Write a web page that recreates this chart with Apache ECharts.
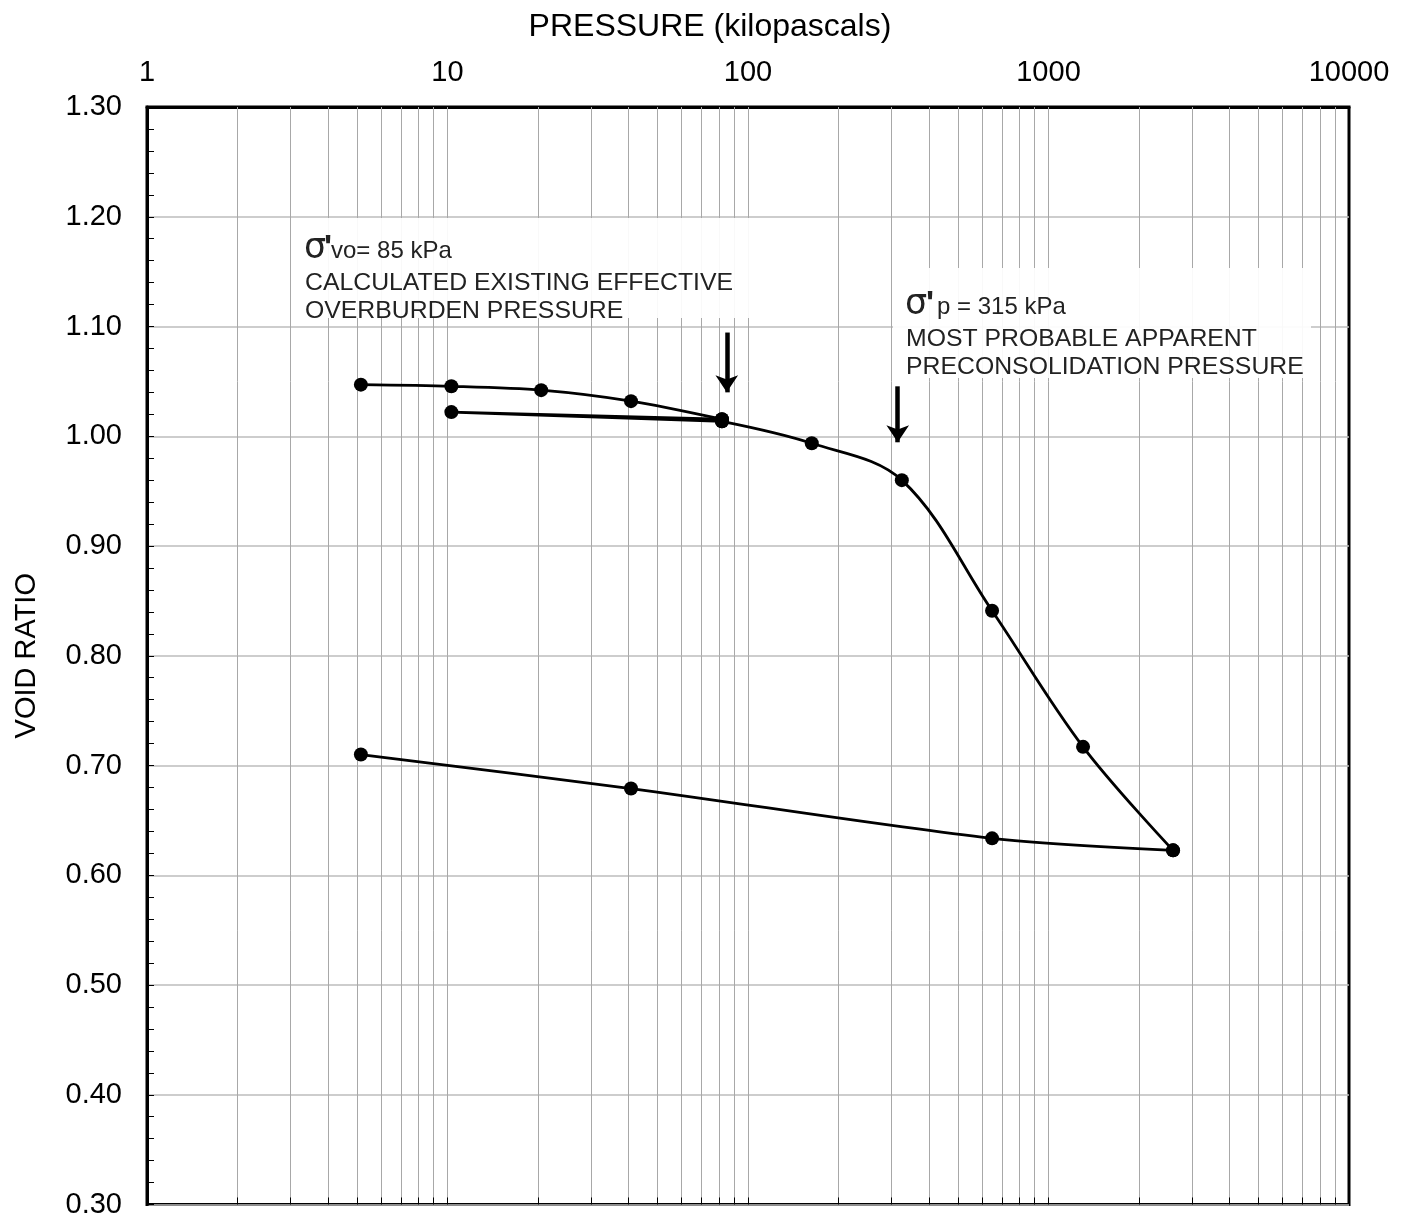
<!DOCTYPE html>
<html>
<head>
<meta charset="utf-8">
<script src="https://cdn.jsdelivr.net/npm/echarts@6/dist/echarts.min.js"></script>
<style>
html,body{margin:0;padding:0;background:#fff;}
#c{width:1403px;height:1219px;}
</style>
</head>
<body>
<div id="c"></div>
<script>
// ---- data ----
const pressureLoad1 = [5.15, 10.3, 20.5, 40.8, 81.9];
const voidLoad1     = [1.047, 1.0455, 1.042, 1.032, 1.0155];
const pressureCycle = [81.9, 10.3, 81.9];
const voidCycle     = [1.0155, 1.022, 1.0136];
const pressureLoad2 = [81.9, 163, 325, 649, 1303, 2597];
const voidLoad2     = [1.0136, 0.9936, 0.960, 0.841, 0.717, 0.6227];
const pressureRebound = [2597, 649, 40.8, 5.15];
const voidRebound     = [0.6227, 0.6336, 0.679, 0.710];

const xTickValues = [1, 10, 100, 1000, 10000];
const xTickLabels = ['1', '10', '100', '1000', '10000'];
const logGridValues = [2,3,4,5,6,7,8,9,10,20,30,40,50,60,70,80,90,100,200,300,400,500,600,700,800,900,1000,2000,3000,4000,5000,6000,7000,8000,9000];

// annotation arrows: [pressure, void ratio at tail, void ratio at head]
const arrowVo = [85, 1.0945, 1.040];
const arrowP  = [315, 1.0455, 0.9945];

const FONT = 'Liberation Sans, Arial, sans-serif';
const pair = (xs, ys) => xs.map((x, i) => [x, ys[i]]);

const curveStyle = {color: '#000', width: 2.8};
const mk = {symbol: 'circle', symbolSize: 14, itemStyle: {color: '#000'}};

const chart = echarts.init(document.getElementById('c'), null, {renderer: 'canvas'});

const option = {
  animation: false,
  backgroundColor: '#fff',
  textStyle: {fontFamily: FONT},
  grid: {left: 147, right: 54, top: 107, bottom: 12, show: true, borderColor: '#000', borderWidth: 3, backgroundColor: 'transparent'},
  xAxis: [{
    type: 'log', logBase: 10, min: 1, max: 10000, position: 'top',
    name: 'PRESSURE (kilopascals)', nameLocation: 'middle', nameGap: 64,
    nameTextStyle: {fontSize: 32, color: '#000', fontFamily: FONT, padding: [0, 76, 0, 0]},
    axisLine: {show: true, lineStyle: {color: '#000', width: 3}},
    axisTick: {show: false},
    axisLabel: {fontSize: 29, color: '#000', margin: 20, fontFamily: FONT,
      formatter: v => { const i = xTickValues.findIndex(t => Math.abs(t - v) / t < 1e-6); return i >= 0 ? xTickLabels[i] : ''; }},
    splitLine: {show: false}
  }],
  yAxis: [{
    type: 'value', min: 0.3, max: 1.3, interval: 0.1,
    name: 'VOID RATIO', nameLocation: 'middle', nameGap: 106,
    nameTextStyle: {fontSize: 29, color: '#000', fontFamily: FONT},
    axisLine: {show: true, lineStyle: {color: '#000', width: 3}},
    axisTick: {show: true, inside: true, length: 7, lineStyle: {color: '#000', width: 1}},
    minorTick: {show: true, splitNumber: 5, length: 7, lineStyle: {color: '#000', width: 1}},
    axisLabel: {fontSize: 29, color: '#000', margin: 25, fontFamily: FONT, formatter: v => v.toFixed(2)},
    splitLine: {show: true, lineStyle: {color: '#bdbdbd', width: 1.5}}
  }],
  series: [
    { // vertical log grid
      type: 'line', z: 1, data: [[1, 0.3]], symbol: 'none', lineStyle: {opacity: 0}, silent: true,
      markLine: {
        silent: true, symbol: 'none', label: {show: false}, animation: false,
        lineStyle: {color: '#a8a8a8', width: 1, type: 'solid'},
        data: logGridValues.map(v => ({xAxis: v}))
      }
    },
    { // bottom minor ticks
      type: 'line', z: 1, data: [[1, 0.3]], symbol: 'none', lineStyle: {opacity: 0}, silent: true,
      markLine: {
        silent: true, symbol: 'none', label: {show: false}, animation: false,
        lineStyle: {color: '#000', width: 1, type: 'solid'},
        data: logGridValues.map(v => [{coord: [v, 0.3]}, {coord: [v, 0.3064]}])
      }
    },
    Object.assign({type: 'line', z: 5, smooth: 0.3, data: pair(pressureLoad1, voidLoad1), lineStyle: curveStyle}, mk),
    Object.assign({type: 'line', z: 5, smooth: false, data: pair(pressureCycle, voidCycle), lineStyle: curveStyle}, mk),
    Object.assign({type: 'line', z: 5, smooth: 0.35, data: pair(pressureLoad2, voidLoad2), lineStyle: curveStyle}, mk),
    Object.assign({type: 'line', z: 5, smooth: 0.3, data: pair(pressureRebound, voidRebound), lineStyle: curveStyle}, mk),
    { // arrows
      type: 'line', z: 6, data: [[1, 0.3]], symbol: 'none', lineStyle: {opacity: 0}, silent: true,
      markLine: {
        silent: true, symbol: ['none', 'arrow'], symbolSize: 17, label: {show: false}, animation: false,
        lineStyle: {color: '#000', width: 4.5, type: 'solid'},
        data: [
          [{coord: [arrowVo[0], arrowVo[1]]}, {coord: [arrowVo[0], arrowVo[2]]}],
          [{coord: [arrowP[0], arrowP[1]]}, {coord: [arrowP[0], arrowP[2]]}]
        ]
      }
    }
  ],
  graphic: [
    {type: 'rect', z: 100, shape: {x: 296, y: 218, width: 453, height: 100}, style: {fill: '#fff', opacity: 0.93}, silent: true},
    {type: 'rect', z: 100, shape: {x: 893, y: 268, width: 418, height: 110}, style: {fill: '#fff', opacity: 0.93}, silent: true},
    {type: 'text', z: 101, x: 304, y: 248.5, style: {text: 'σ', font: '35px DejaVu Sans, ' + FONT, fill: '#222', verticalAlign: 'middle'}},
    {type: 'text', z: 101, x: 324, y: 248.5, style: {text: "'", font: 'bold 34px ' + FONT, fill: '#222', verticalAlign: 'middle'}},
    {type: 'text', z: 101, x: 331, y: 251.6, style: {text: 'vo= 85 kPa', font: '24px ' + FONT, fill: '#222', verticalAlign: 'middle'}},
    {type: 'text', z: 101, x: 305, y: 283.3, style: {text: 'CALCULATED EXISTING EFFECTIVE', font: '24.8px ' + FONT, fill: '#222', verticalAlign: 'middle'}},
    {type: 'text', z: 101, x: 305, y: 311.6, style: {text: 'OVERBURDEN PRESSURE', font: '24.8px ' + FONT, fill: '#222', verticalAlign: 'middle'}},
    {type: 'text', z: 101, x: 905, y: 304.5, style: {text: 'σ', font: '35px DejaVu Sans, ' + FONT, fill: '#222', verticalAlign: 'middle'}},
    {type: 'text', z: 101, x: 926, y: 304.5, style: {text: "'", font: 'bold 34px ' + FONT, fill: '#222', verticalAlign: 'middle'}},
    {type: 'text', z: 101, x: 937, y: 307.6, style: {text: 'p = 315 kPa', font: '24px ' + FONT, fill: '#222', verticalAlign: 'middle'}},
    {type: 'text', z: 101, x: 906, y: 339.3, style: {text: 'MOST PROBABLE APPARENT', font: '24.8px ' + FONT, fill: '#222', verticalAlign: 'middle'}},
    {type: 'text', z: 101, x: 906, y: 367.6, style: {text: 'PRECONSOLIDATION PRESSURE', font: '24.8px ' + FONT, fill: '#222', verticalAlign: 'middle'}}
  ]
};
chart.setOption(option);
</script>
</body>
</html>
